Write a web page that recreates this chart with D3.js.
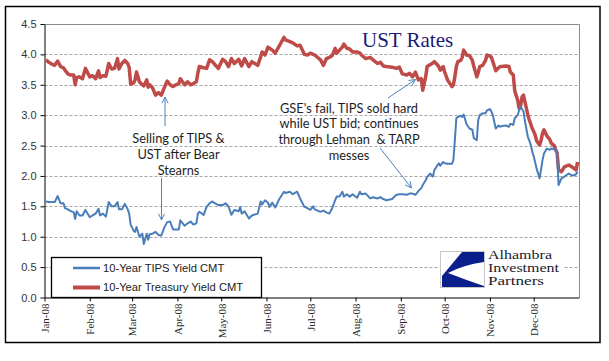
<!DOCTYPE html>
<html lang="en">
<head>
<meta charset="UTF-8" />
<title>UST Rates</title>
<style>
  body { margin: 0; background: #fff; }
  svg { display: block; }
</style>
</head>
<body>
<svg width="609" height="361"></svg>
<script src="https://cdn.jsdelivr.net/npm/d3@7/dist/d3.min.js"></script>
<script>
// observation dates (2008), month by month
var dates = [
  "01-02","01-04","01-06","01-08","01-10","01-12","01-14","01-15","01-17","01-19","01-21","01-22","01-23","01-25","01-27","01-29",
  "02-01","02-03","02-05","02-07","02-08","02-10","02-12","02-14","02-16","02-18","02-20","02-21","02-23","02-25","02-27","02-28","02-29",
  "03-02","03-03","03-04","03-06","03-08","03-09","03-11","03-12","03-13","03-15","03-17","03-19","03-21","03-23","03-25","03-27","03-29","03-31",
  "04-02","04-03","04-06","04-08","04-10","04-12","04-14","04-15","04-16","04-19","04-21","04-23","04-25","04-26","04-29",
  "05-02","05-04","05-06","05-08","05-10","05-13","05-14","05-15","05-17","05-20","05-22","05-26","05-28","05-29","05-31",
  "06-02","06-03","06-05","06-07","06-10","06-13","06-14","06-17","06-19","06-22","06-24","06-27","06-29",
  "07-01","07-03","07-04","07-08","07-10","07-12","07-14","07-16","07-18","07-19","07-21","07-23","07-24","07-26","07-28","07-30",
  "08-02","08-04","08-05","08-08","08-11","08-13","08-16","08-18","08-20","08-22","08-26","08-29","08-31",
  "09-02","09-05","09-07","09-09","09-11","09-13","09-15","09-16","09-18","09-19","09-21","09-23","09-24","09-27","09-28","09-30",
  "10-01","10-03","10-06","10-07","10-08","10-09","10-10","10-12","10-13","10-14","10-16","10-18","10-20","10-21","10-23","10-24","10-25","10-27","10-29","10-30",
  "11-01","11-02","11-03","11-05","11-07","11-08","11-09","11-12","11-14","11-15","11-17","11-18","11-20","11-21","11-22","11-23","11-24","11-25","11-27","11-28","11-29","11-30",
  "12-01","12-02","12-03","12-05","12-06","12-07","12-08","12-10","12-12","12-13","12-15","12-16","12-17","12-18","12-20","12-22","12-25","12-27","12-29","12-30","12-31"
];

var tipsYield = [
  1.58,1.57,1.57,1.57,1.67,1.55,1.55,1.47,1.45,1.42,1.40,1.29,1.42,1.35,1.35,1.44,
  1.32,1.35,1.38,1.46,1.35,1.38,1.33,1.57,1.50,1.50,1.57,1.45,1.45,1.54,1.45,1.38,1.20,
  1.10,1.08,1.16,1.00,1.05,0.88,1.05,0.95,1.04,1.05,1.08,1.03,1.02,1.15,1.24,1.25,1.12,1.12,
  1.12,1.27,1.18,1.22,1.25,1.20,1.22,1.38,1.41,1.36,1.49,1.55,1.58,1.56,1.52,
  1.52,1.55,1.50,1.36,1.44,1.42,1.49,1.38,1.42,1.30,1.35,1.38,1.58,1.53,1.60,
  1.56,1.49,1.56,1.48,1.63,1.74,1.72,1.74,1.70,1.74,1.63,1.49,1.47,
  1.44,1.50,1.45,1.41,1.43,1.40,1.38,1.47,1.60,1.66,1.66,1.74,1.66,1.70,1.66,1.70,
  1.64,1.74,1.70,1.71,1.63,1.65,1.63,1.65,1.62,1.60,1.62,1.69,1.70,
  1.70,1.69,1.71,1.71,1.69,1.75,1.80,1.85,1.93,1.98,2.04,1.99,2.10,2.21,2.17,2.23,
  2.21,2.20,2.20,2.26,2.59,2.95,2.97,2.99,2.97,3.01,2.85,2.78,2.76,2.62,2.59,2.92,3.00,3.03,3.03,3.08,
  3.10,3.06,3.00,2.78,2.83,2.81,2.82,2.83,2.81,2.86,2.84,2.95,3.00,3.08,3.14,3.10,3.06,2.90,2.64,2.58,2.51,2.40,
  2.32,2.22,2.12,1.96,2.10,2.26,2.37,2.45,2.43,2.45,2.44,2.44,2.40,1.85,1.96,1.99,2.04,2.01,2.01,2.03,2.07
];

var treasuryYield = [
  3.91,3.87,3.84,3.82,3.89,3.80,3.78,3.74,3.68,3.66,3.66,3.50,3.62,3.63,3.60,3.77,
  3.63,3.65,3.60,3.73,3.62,3.65,3.64,3.85,3.76,3.77,3.93,3.76,3.85,3.90,3.85,3.78,3.51,
  3.53,3.58,3.71,3.55,3.50,3.48,3.58,3.46,3.50,3.45,3.33,3.37,3.33,3.45,3.56,3.50,3.47,3.50,
  3.52,3.60,3.50,3.55,3.50,3.52,3.55,3.69,3.80,3.78,3.77,3.91,3.88,3.85,3.77,
  3.92,3.88,3.80,3.93,3.85,3.92,3.86,3.81,3.93,3.80,3.88,3.82,3.96,4.04,3.99,
  4.12,4.10,4.07,4.02,4.15,4.28,4.24,4.21,4.19,4.14,4.15,4.00,3.99,
  4.02,4.00,3.99,3.91,3.82,3.93,3.95,3.98,4.10,4.02,4.07,4.12,4.17,4.10,4.09,4.04,
  4.04,4.02,3.99,3.93,3.95,3.91,3.85,3.87,3.81,3.80,3.79,3.77,3.79,
  3.68,3.66,3.69,3.63,3.71,3.58,3.60,3.41,3.63,3.80,3.83,3.86,3.88,3.80,3.74,3.80,
  3.71,3.58,3.47,3.50,3.63,3.80,3.88,3.90,3.95,4.07,3.99,3.98,3.90,3.80,3.63,3.70,3.80,3.82,3.90,3.99,
  3.97,3.95,3.88,3.73,3.78,3.80,3.80,3.81,3.80,3.71,3.66,3.40,3.25,3.11,3.15,3.30,3.33,3.22,3.00,2.92,2.85,2.78,
  2.73,2.67,2.58,2.51,2.58,2.70,2.76,2.66,2.60,2.54,2.50,2.43,2.38,2.10,2.07,2.15,2.18,2.15,2.12,2.10,2.23
];

var yTicks = [0, 0.5, 1.0, 1.5, 2.0, 2.5, 3.0, 3.5, 4.0, 4.5];
var monthTicks = ["01","02","03","04","05","06","07","08","09","10","11","12"];
var seriesNames = ["10-Year TIPS Yield CMT", "10-Year Treasury Yield CMT"];
var seriesColors = ["#4a7ebb", "#be4b48"];
var title = "UST Rates";
var noteBear = ["Selling of TIPS &", "UST after Bear", "Stearns"];
var noteGse = ["GSE's fail, TIPS sold hard", "while UST bid; continues", "through Lehman  & TARP", "messes"];
var logoLines = ["Alhambra", "Investment", "Partners"];

var svg = d3.select("svg");
var parse = d3.timeParse("%Y-%m-%d");
var days = dates.map(function(d) { return parse("2008-" + d); });

var x = d3.scaleTime()
  .domain([new Date(2008, 0, 1), new Date(2009, 0, 1)])
  .range([44.5, 579]);
var y = d3.scaleLinear().domain([0, 4.5]).range([297.5, 24]);

svg.append("rect").attr("width", 609).attr("height", 361).attr("fill", "#fff");
// outer frame
svg.append("rect")
  .attr("x", 5.5).attr("y", 6.5).attr("width", 594.5).attr("height", 336)
  .attr("fill", "none").attr("stroke", "#000").attr("stroke-width", 1.5);

// grid
svg.append("g").selectAll("line")
  .data(yTicks.filter(function(v) { return v > 0 && v < 4.5; }))
  .enter().append("line")
  .attr("x1", 44.5).attr("x2", 579)
  .attr("y1", function(d) { return Math.round(y(d)) + 0.5; })
  .attr("y2", function(d) { return Math.round(y(d)) + 0.5; })
  .attr("stroke", "#a6a6a6").attr("stroke-dasharray", "3,2");

// plot border (top + right)
svg.append("path")
  .attr("d", "M44.5," + (Math.round(y(4.5)) + 0.5) + "H579.5V297.5")
  .attr("fill", "none").attr("stroke", "#8c8c8c");

// y axis
var yAxis = svg.append("g")
  .attr("transform", "translate(44.5,0)")
  .call(d3.axisLeft(y).tickValues(yTicks).tickFormat(d3.format(".1f")).tickSize(4).tickSizeOuter(0));
yAxis.selectAll("text")
  .attr("font-family", "Liberation Sans, Arial, sans-serif").attr("font-size", 11).attr("fill", "#333")
  .attr("x", -8);
yAxis.select(".domain").attr("stroke", "#000");

// x axis
var xAxis = svg.append("g")
  .attr("transform", "translate(0,297.5)")
  .call(d3.axisBottom(x)
    .tickValues(monthTicks.map(function(m) { return parse("2008-" + m + "-01"); }))
    .tickFormat(d3.timeFormat("%b-%y")).tickSize(4).tickSizeOuter(0));
xAxis.select(".domain").attr("stroke", "#000").attr("stroke-width", 1.2);
xAxis.selectAll("text")
  .attr("font-family", "Liberation Serif, Times New Roman, serif").attr("font-size", 11).attr("fill", "#2a2a2a")
  .attr("transform", "rotate(-90)")
  .attr("text-anchor", "end")
  .attr("x", -6).attr("y", 0).attr("dy", "0.35em");

// series
var line = d3.line()
  .x(function(d, i) { return x(days[i]); })
  .y(function(d) { return y(d); });

svg.append("path").datum(treasuryYield)
  .attr("d", line).attr("fill", "none")
  .attr("stroke", seriesColors[1]).attr("stroke-width", 3.5)
  .attr("stroke-linejoin", "round");
svg.append("path").datum(tipsYield)
  .attr("d", line).attr("fill", "none")
  .attr("stroke", seriesColors[0]).attr("stroke-width", 2)
  .attr("stroke-linejoin", "round");

// legend
var lg = svg.append("g");
lg.append("rect").attr("x", 51.5).attr("y", 257.5).attr("width", 210).attr("height", 40)
  .attr("fill", "#fff").attr("stroke", "#000").attr("stroke-width", 1.3);
seriesNames.forEach(function(name, i) {
  var ly = 268 + i * 19.5;
  lg.append("line").attr("x1", 73).attr("x2", 100).attr("y1", ly).attr("y2", ly)
    .attr("stroke", seriesColors[i]).attr("stroke-width", i === 0 ? 2.5 : 4);
  lg.append("text").attr("x", 103).attr("y", ly).attr("dy", "0.35em")
    .attr("font-family", "Liberation Sans, Arial, sans-serif").attr("font-size", 11.2)
    .attr("fill", "#222").text(name);
});

// title
svg.append("text").attr("x", 362).attr("y", 47)
  .attr("font-family", "Liberation Serif, Times New Roman, serif").attr("font-size", 21)
  .attr("fill", "#1c1c78").text(title);

// annotations
function note(lines, cx, y0, lh) {
  var t = svg.append("text")
    .attr("font-family", "Lato, Open Sans, sans-serif").attr("font-size", 12.8)
    .attr("fill", "#1e1e1e").attr("text-anchor", "middle");
  lines.forEach(function(s, i) {
    t.append("tspan").attr("x", cx).attr("y", y0 + i * lh).attr("xml:space", "preserve").text(s);
  });
}
note(noteBear, 178.5, 143, 16);
note(noteGse, 349, 112.5, 15.8);

function arrow(x1, y1, x2, y2) {
  var a = Math.atan2(y2 - y1, x2 - x1), h = 7, w = 0.45;
  svg.append("path")
    .attr("d", "M" + x1 + "," + y1 + "L" + x2 + "," + y2 +
      "M" + (x2 - h * Math.cos(a - w)) + "," + (y2 - h * Math.sin(a - w)) +
      "L" + x2 + "," + y2 +
      "L" + (x2 - h * Math.cos(a + w)) + "," + (y2 - h * Math.sin(a + w)))
    .attr("fill", "none").attr("stroke", "#4f81bd").attr("stroke-width", 1);
}
arrow(165, 126, 165, 97);
arrow(161.5, 178, 161.5, 220);
arrow(388, 98, 415.5, 79.5);
arrow(380, 148, 411.5, 188);

// logo
var logo = svg.append("g");
logo.append("rect").attr("x", 438).attr("y", 249).attr("width", 126).attr("height", 40).attr("fill", "#fff");
logo.append("rect").attr("x", 440.5).attr("y", 251.5).attr("width", 44).attr("height", 36)
  .attr("fill", "#fff").attr("stroke", "#c8c8c8");
logo.append("path")
  .attr("d", "M462,252L484,252L484,262Q463,265 448,273Q466,280 484,286L484,287L442,287L442,276Z")
  .attr("fill", "#0b1f8c");
logoLines.forEach(function(s, i) {
  logo.append("text").attr("x", 488).attr("y", 259 + i * 13)
    .attr("font-family", "Liberation Serif, Times New Roman, serif").attr("font-size", 13)
    .attr("textLength", [64, 71, 56][i]).attr("lengthAdjust", "spacingAndGlyphs")
    .attr("fill", "#1a1a2e").text(s);
});
</script>
</body>
</html>
